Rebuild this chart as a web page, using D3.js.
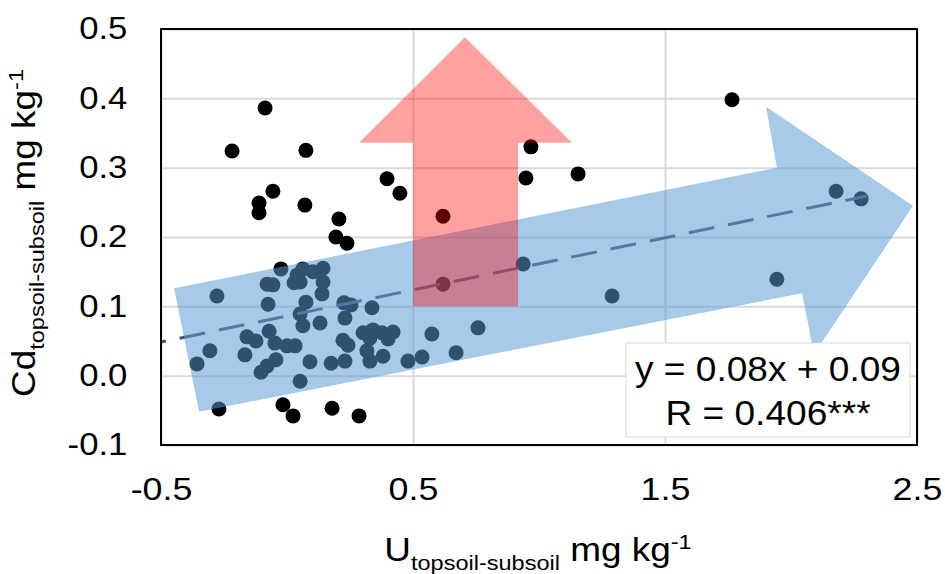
<!DOCTYPE html>
<html lang="en">
<head>
    <meta charset="utf-8">
    <title>Cd vs U, topsoil-subsoil</title>
    <style>
        body { margin: 0; background: #fff; }
        svg { display: block; background: #fff; }
        text { font-family: "Liberation Sans", Arial, sans-serif; fill: #000; }
        .tick-label { font-size: 31px; }
        .axis-title { font-size: 33px; }
        .small { font-size: 21px; }
        .eq-text { font-size: 35px; text-anchor: middle; }
    </style>
    <script src="https://d3js.org/d3.v7.min.js"></script>
</head>
<body>
<svg id="chart" width="945" height="574"></svg>
<script>
    // U (topsoil - subsoil), mg/kg
    const uValues = [
        -0.087, -0.218, 0.075, 0.397, 0.448, -0.056, -0.111, -0.111, 0.071, 0.206,
        0.194, 0.238, 0.619, 0.968, 0.948, 1.155, 1.766, 2.179, 2.278, 1.290,
        1.944, 0.937, 0.619, -0.024, 0.063, 0.103, 0.143, 0.040, -0.079, -0.056,
        0.028, 0.052, 0.143, 0.139, -0.278, -0.075, 0.075, 0.052, 0.063, 0.131,
        0.226, 0.254, 0.230, 0.337, -0.159, -0.123, -0.071, -0.048, 0.000, 0.032,
        -0.306, -0.357, -0.167, -0.103, -0.079, -0.044, 0.052, 0.091, 0.175, 0.230,
        0.222, 0.242, 0.302, 0.341, 0.377, 0.421, 0.401, 0.329, 0.317, 0.329,
        0.381, 0.480, 0.536, 0.575, 0.671, 0.758, -0.270, -0.016, 0.024, 0.179,
        0.286
    ];
    // Cd (topsoil - subsoil), mg/kg
    const cdValues = [
        0.386, 0.324, 0.325, 0.284, 0.263, 0.266, 0.249, 0.235, 0.246, 0.226,
        0.200, 0.191, 0.230, 0.330, 0.285, 0.291, 0.398, 0.266, 0.255, 0.115,
        0.139, 0.161, 0.132, 0.154, 0.154, 0.150, 0.155, 0.145, 0.132, 0.131,
        0.134, 0.135, 0.135, 0.118, 0.115, 0.103, 0.106, 0.089, 0.072, 0.076,
        0.105, 0.102, 0.083, 0.098, 0.056, 0.050, 0.064, 0.047, 0.043, 0.043,
        0.036, 0.017, 0.030, 0.005, 0.014, 0.023, -0.008, 0.020, 0.018, 0.021,
        0.051, 0.044, 0.062, 0.066, 0.062, 0.063, 0.053, 0.054, 0.036, 0.021,
        0.028, 0.021, 0.027, 0.060, 0.033, 0.069, -0.048, -0.042, -0.058, -0.047,
        -0.058
    ];

    const xTicks = [-0.5, 0.5, 1.5, 2.5];
    const xTickLabels = ["-0.5", "0.5", "1.5", "2.5"];
    const yTicks = [-0.1, 0.0, 0.1, 0.2, 0.3, 0.4, 0.5];
    const yTickLabels = ["-0.1", "0.0", "0.1", "0.2", "0.3", "0.4", "0.5"];

    // linear trend line
    const trendU = [-0.5, 2.3];
    const trendSlope = 0.0752;
    const trendIntercept = 0.0861;
    const equationLines = ["y = 0.08x + 0.09", "R = 0.406***"];

    // annotation arrows, in data units
    const blueArrowU = [-0.448, 1.944, 1.901, 2.484, 2.091, 2.044, -0.349];
    const blueArrowCd = [0.126, 0.300, 0.388, 0.245, 0.031, 0.119, -0.052];
    const redArrowU = [0.500, 0.500, 0.286, 0.706, 1.131, 0.917, 0.917];
    const redArrowCd = [0.100, 0.336, 0.336, 0.488, 0.336, 0.336, 0.100];

    const width = 945, height = 574;
    const margin = { top: 29, right: 28, bottom: 129, left: 161 };
    const plotW = width - margin.left - margin.right;
    const plotH = height - margin.top - margin.bottom;
    const stretch = 1.12;

    const x = d3.scaleLinear().domain([-0.5, 2.5]).range([margin.left, width - margin.right]);
    const y = d3.scaleLinear().domain([-0.1, 0.5]).range([height - margin.bottom, margin.top]);

    const svg = d3.select("#chart");

    // gridlines
    svg.append("g")
        .attr("transform", `translate(0,${height - margin.bottom})`)
        .call(d3.axisBottom(x).tickValues(xTicks).tickSize(-plotH).tickFormat(""))
        .call(g => g.select(".domain").remove())
        .selectAll("line").attr("stroke", "#d9d9d9").attr("stroke-width", 2);

    svg.append("g")
        .attr("transform", `translate(${margin.left},0)`)
        .call(d3.axisLeft(y).tickValues(yTicks).tickSize(-plotW).tickFormat(""))
        .call(g => g.select(".domain").remove())
        .selectAll("line").attr("stroke", "#d9d9d9").attr("stroke-width", 2);

    // points
    svg.append("g")
        .selectAll("circle")
        .data(d3.range(uValues.length))
        .join("circle")
        .attr("cx", i => x(uValues[i]))
        .attr("cy", i => y(cdValues[i]))
        .attr("r", 7.5)
        .attr("fill", "#000");

    // trend line
    const line = d3.line().x(d => x(d[0])).y(d => y(d[1]));
    svg.append("path")
        .attr("d", line(trendU.map(u => [u, trendSlope * u + trendIntercept])))
        .attr("fill", "none")
        .attr("stroke", "#44546a")
        .attr("stroke-width", 3)
        .attr("stroke-dasharray", "26,14")
        .attr("stroke-dashoffset", 21);

    // arrows
    svg.append("path")
        .attr("d", line(blueArrowU.map((u, i) => [u, blueArrowCd[i]])) + "Z")
        .attr("fill", "#5b9bd5")
        .attr("fill-opacity", 0.53);

    svg.append("path")
        .attr("d", line(redArrowU.map((u, i) => [u, redArrowCd[i]])) + "Z")
        .attr("fill", "#ff0000")
        .attr("fill-opacity", 0.37);

    // plot frame
    svg.append("rect")
        .attr("x", margin.left)
        .attr("y", margin.top)
        .attr("width", plotW)
        .attr("height", plotH)
        .attr("fill", "none")
        .attr("stroke", "#000")
        .attr("stroke-width", 2);

    // axes labels
    svg.append("g")
        .attr("transform", `translate(0,${height - margin.bottom})`)
        .call(d3.axisBottom(x).tickValues(xTicks).tickSize(0).tickPadding(32)
            .tickFormat((d, i) => xTickLabels[i]))
        .call(g => g.select(".domain").remove())
        .selectAll("text")
        .attr("class", "tick-label")
        .attr("font-size", null)
        .attr("font-family", null)
        .style("font-size", "32px")
        .attr("transform", `scale(${stretch},1)`);

    svg.append("g")
        .attr("transform", `translate(${margin.left},0)`)
        .call(d3.axisLeft(y).tickValues(yTicks).tickSize(0).tickPadding(30)
            .tickFormat((d, i) => yTickLabels[i]))
        .call(g => g.select(".domain").remove())
        .selectAll("text")
        .attr("class", "tick-label")
        .attr("transform", `scale(${stretch},1)`);

    svg.selectAll(".tick text").attr("fill", "#000");

    function axisTitle(g, main) {
        const t = g.append("text").attr("class", "axis-title").attr("text-anchor", "middle");
        t.append("tspan").text(main);
        t.append("tspan").attr("class", "small").attr("dy", 9).text("topsoil-subsoil");
        t.append("tspan").attr("dy", -9).text(" mg kg");
        t.append("tspan").attr("class", "small").attr("dy", -12).text("-1");
    }

    axisTitle(svg.append("g")
        .attr("transform", `translate(${(margin.left + width - margin.right) / 2 - 1},561) scale(${stretch},1)`), "U");

    axisTitle(svg.append("g")
        .attr("transform", `translate(35,${(margin.top + height - margin.bottom) / 2 - 4}) rotate(-90) scale(${stretch},1)`), "Cd");

    // equation box
    const boxW = 284, boxH = 94;
    const boxX = width - margin.right - 7 - boxW;
    const boxY = height - margin.bottom - 8 - boxH;
    svg.append("rect")
        .attr("x", boxX).attr("y", boxY)
        .attr("width", boxW).attr("height", boxH)
        .attr("fill", "#fff")
        .attr("stroke", "#d9d9d9")
        .attr("stroke-width", 1);

    equationLines.forEach((s, i) => {
        svg.append("text")
            .attr("class", "eq-text")
            .attr("transform", `translate(${boxX + boxW / 2},${boxY + 38 + i * 44}) scale(1.06,1)`)
            .text(s);
    });
</script>
</body>
</html>
